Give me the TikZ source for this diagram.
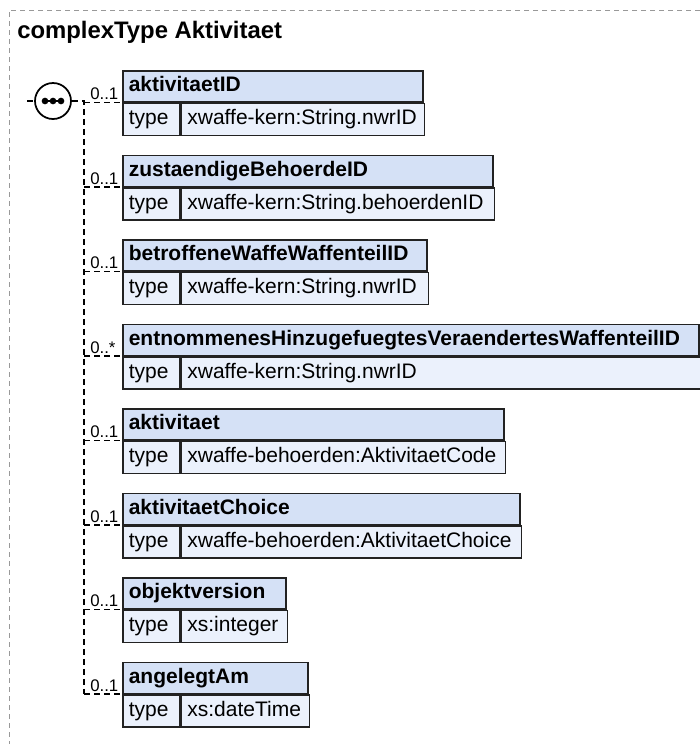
\documentclass[tikz,border=0pt]{standalone}
\usepackage{fontspec}
\setmainfont{Liberation Sans}
\definecolor{hdrblue}{HTML}{D5E1F6}
\definecolor{rowblue}{HTML}{EBF1FC}
\definecolor{boxline}{HTML}{222222}
\definecolor{framegray}{HTML}{999999}
\tikzset{
  hdr/.style={draw=boxline,fill=hdrblue,line width=1.2pt,anchor=north west,align=left,
    inner xsep=4.5pt,inner ysep=0pt,minimum height=23.25pt,text height=11.5pt,text depth=3.2pt,
    font=\fontsize{15.75}{18}\selectfont\bfseries},
  cell/.style={hdr,fill=rowblue,minimum height=24pt,font=\fontsize{15.75}{18}\selectfont},
  conn/.style={line width=1.3pt,dash pattern=on 4.5pt off 3pt},
  mult/.style={anchor=base west,inner sep=0pt,font=\fontsize{12.6}{14}\selectfont},
}
\begin{document}
\begin{tikzpicture}[x=0.75pt,y=-0.75pt]
  \useasboundingbox (0,0) rectangle (700,744);
  \draw[framegray,line width=0.75pt,dash pattern=on 3.75pt off 3pt] (700,10) -- (9,10) -- (9,744);
  \node[anchor=base west,inner sep=0pt,font=\fontsize{17.9}{20}\selectfont\bfseries] (ttl) at (17,38) {complexType Aktivitaet};
  \node[draw,circle,line width=1.3pt,minimum size=27pt,inner sep=0pt,fill=white] (seq) at (53,101) {};
  \draw[line width=1.3pt] ([xshift=-8pt]seq.center) -- ([xshift=8pt]seq.center);
  \foreach \dx in {-8,0,8} \fill (seq.center) ++(\dx,0) circle (2.5pt);
  \coordinate (trunk) at (84,101);
  \foreach \n/\typ/\r/\m [count=\i] in {
    aktivitaetID/xwaffe-kern:String.nwrID/422/1,
    zustaendigeBehoerdeID/xwaffe-kern:String.behoerdenID/492/1,
    betroffeneWaffeWaffenteilID/xwaffe-kern:String.nwrID/426/1,
    entnommenesHinzugefuegtesVeraendertesWaffenteilID/xwaffe-kern:String.nwrID/698/*,
    aktivitaet/xwaffe-behoerden:AktivitaetCode/503/1,
    aktivitaetChoice/xwaffe-behoerden:AktivitaetChoice/519/1,
    objektversion/xs:integer/285/1,
    angelegtAm/xs:dateTime/307/1}{
    \pgfmathsetmacro\t{70+(\i-1)*84.5}
    \pgfmathsetmacro\hw{(\r-122)*0.75-9}
    \pgfmathsetmacro\vw{(\r-179)*0.75-9}
    \node[hdr,text width=\hw pt] (h\i) at (122,\t) {\n};
    \node[cell,text width=33.75pt] (k\i) at (h\i.south west) {type};
    \node[cell,text width=\vw pt] (v\i) at (k\i.north east) {\typ};
    \node[mult] (m\i) at ([xshift=-24pt,yshift=2pt]h\i.south west) {0..\m};
    \draw[conn] (trunk |- h\i.south west) -- (h\i.south west);
  }
  \draw[conn] (27,101) -- (seq.west);
  \draw[conn] (seq.east) -- (trunk) -- (trunk |- h8.south west);
\end{tikzpicture}
\end{document}
